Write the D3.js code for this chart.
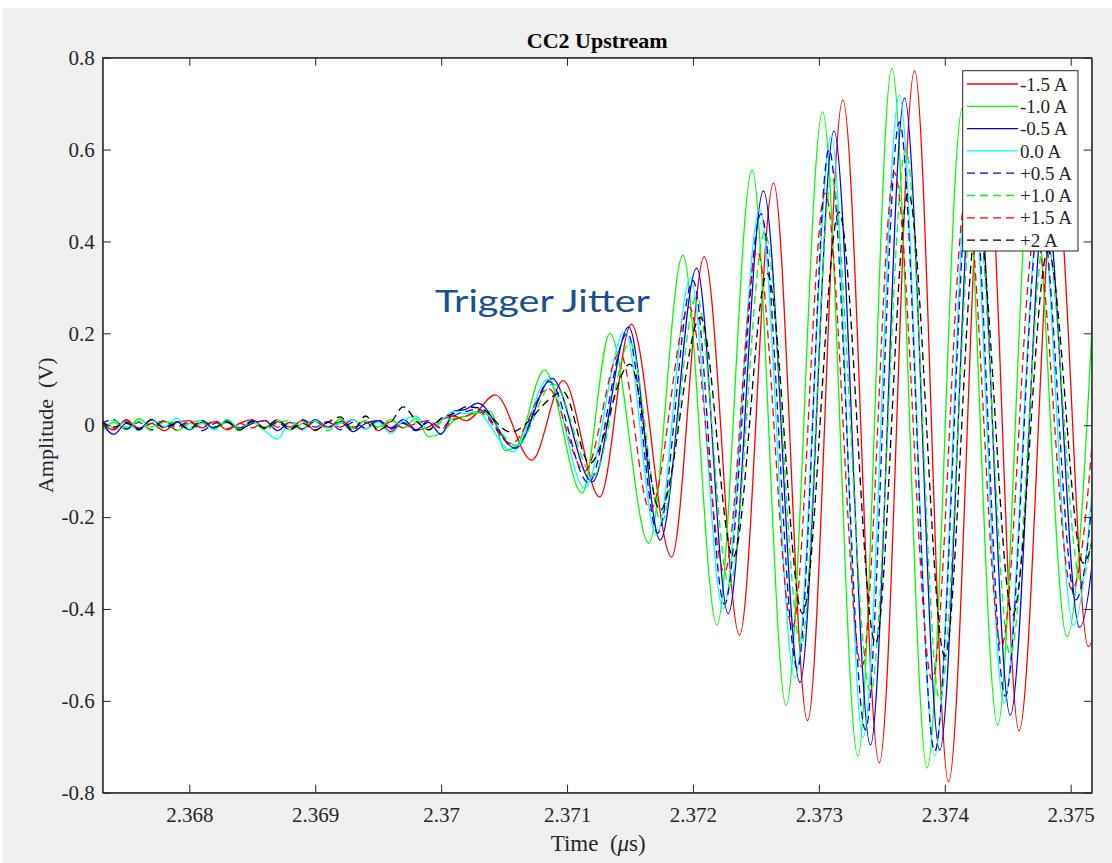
<!DOCTYPE html>
<html>
<head>
<meta charset="utf-8">
<script src="https://cdn.jsdelivr.net/npm/d3@7"></script>
<style>
  body { margin: 0; background: #ffffff; }
  text { font-family: "Liberation Serif", "Times New Roman", serif; fill: #262626; }
</style>
</head>
<body>
<svg id="chart" width="1112" height="863"></svg>
<script>
// tick labels
const xTicks = [2.368, 2.369, 2.37, 2.371, 2.372, 2.373, 2.374, 2.375];
const yTicks = [-0.8, -0.6, -0.4, -0.2, 0, 0.2, 0.4, 0.6, 0.8];

// legend entries
const seriesLabels = ["-1.5 A", "-1.0 A", "-0.5 A", "0.0 A", "+0.5 A", "+1.0 A", "+1.5 A", "+2 A"];

// pre-trigger noise, sampled on a shared time grid (us)
const noiseTimes = [2.3673, 2.3674, 2.3675, 2.3676, 2.3677, 2.3678, 2.3679, 2.3680, 2.3681, 2.3682,
                    2.3683, 2.3684, 2.3685, 2.3686, 2.3687, 2.3688, 2.3689, 2.3690, 2.3691, 2.3692,
                    2.3693, 2.3694, 2.3695, 2.3696, 2.3697, 2.3698, 2.3699, 2.3700, 2.3701, 2.3702];

const noiseM15 = [0.005, -0.01, 0.012, -0.008, 0.004, -0.012, 0.006, 0.01, -0.006, 0.008, -0.01, 0.004, 0.012, -0.006, 0.008,
                  -0.004, 0.01, -0.012, 0.006, -0.004, 0.012, -0.008, 0.01, -0.014, 0.006, -0.01, -0.004, 0.012, 0.02, 0.01];
const noiseM10 = [-0.015, 0.006, -0.01, 0.014, -0.004, 0.01, -0.012, 0.004, 0.01, -0.008, 0.006, -0.012, 0.008, -0.004, 0.012,
                  -0.01, 0.004, 0.008, -0.006, 0.014, -0.008, 0.01, -0.004, 0.012, -0.006, 0.015, -0.025, -0.018, 0.01, 0.02];
const noiseM05 = [0.01, -0.02, 0.004, -0.008, 0.012, -0.004, 0.008, -0.01, 0.006, -0.006, 0.01, -0.008, 0.004, 0.01, -0.012,
                  0.006, -0.008, 0.012, -0.004, 0.008, -0.014, 0.004, 0.01, -0.006, 0.012, -0.01, 0.006, -0.02, 0.03, 0.035];
const noiseZ00 = [0.012, -0.006, 0.008, -0.012, 0.01, -0.004, 0.015, -0.008, 0.004, -0.01, 0.012, -0.006, 0.008, -0.012, -0.03,
                  0.006, -0.01, 0.01, -0.006, 0.004, 0.012, -0.008, 0.006, -0.018, 0.01, 0.02, -0.01, 0.01, 0.03, 0.025];
const noiseP05 = [0.004, 0.012, -0.008, 0.006, -0.01, 0.01, -0.004, 0.008, -0.012, 0.004, 0.008, -0.006, 0.01, -0.008, 0.006,
                  -0.01, 0.012, -0.004, 0.008, -0.01, 0.006, -0.006, 0.012, -0.008, 0.004, -0.012, 0.01, -0.006, 0.02, 0.03];
const noiseP10 = [-0.008, 0.01, -0.004, 0.008, -0.012, 0.006, 0.004, -0.01, 0.008, -0.004, 0.012, -0.008, 0.006, -0.01, 0.004,
                  0.01, -0.006, 0.008, -0.012, 0.006, -0.004, 0.01, -0.008, 0.012, -0.006, 0.008, -0.01, 0.006, 0.015, 0.02];
const noiseP15 = [0.006, -0.008, 0.01, -0.006, 0.004, 0.008, -0.01, 0.006, -0.004, 0.01, -0.008, 0.004, -0.006, 0.01, -0.004,
                  0.006, -0.01, 0.008, -0.006, 0.01, -0.004, 0.006, -0.012, 0.008, -0.006, 0.004, 0.01, -0.008, 0.012, 0.02];
const noiseP20 = [0.008, -0.004, 0.006, -0.01, 0.012, -0.006, 0.004, -0.008, 0.01, -0.004, 0.006, -0.01, 0.008, -0.006, 0.012,
                  -0.008, 0.004, -0.01, 0.006, 0.018, -0.012, 0.02, -0.01, 0.006, 0.04, 0.01, -0.01, 0.015, 0.025, 0.04];

// ringing after the trigger: [time (us), amplitude (V)] at each peak / trough
const ringM15 = [[2.37043, 0.066], [2.37072, -0.076], [2.37097, 0.097], [2.37126, -0.156], [2.37151, 0.22], [2.37183, -0.287],
                 [2.37209, 0.367], [2.37237, -0.457], [2.37264, 0.527], [2.37291, -0.643], [2.37319, 0.708], [2.37348, -0.735],
                 [2.37376, 0.772], [2.37403, -0.776], [2.37432, 0.70], [2.37459, -0.665], [2.37488, 0.55], [2.37514, -0.482], [2.37542, 0.4]];
const ringM10 = [[2.37039, 0.03], [2.37051, -0.055], [2.37060, -0.045], [2.37082, 0.12], [2.37112, -0.148], [2.37134, 0.20],
                 [2.37165, -0.257], [2.37192, 0.37], [2.37219, -0.435], [2.37247, 0.555], [2.37274, -0.61], [2.37303, 0.682],
                 [2.37331, -0.72], [2.37358, 0.777], [2.37386, -0.746], [2.37414, 0.69], [2.37442, -0.653], [2.37469, 0.58],
                 [2.37497, -0.46], [2.37522, 0.5]];
const ringM05 = [[2.37029, 0.048], [2.37059, -0.05], [2.37088, 0.102], [2.37120, -0.123], [2.37149, 0.214], [2.37174, -0.25],
                 [2.37203, 0.342], [2.37228, -0.41], [2.37256, 0.51], [2.37285, -0.56], [2.37312, 0.64], [2.37341, -0.696],
                 [2.37368, 0.712], [2.37396, -0.707], [2.37424, 0.62], [2.37452, -0.631], [2.37480, 0.5], [2.37507, -0.44], [2.37535, 0.38]];
const ringZ00 = [[2.37027, 0.03], [2.37057, -0.058], [2.37085, 0.10], [2.37114, -0.137], [2.37146, 0.205], [2.37171, -0.24],
                 [2.37198, 0.32], [2.37224, -0.40], [2.37253, 0.47], [2.37281, -0.55], [2.37310, 0.63], [2.37335, -0.68],
                 [2.37364, 0.718], [2.37392, -0.72], [2.37420, 0.60], [2.37447, -0.605], [2.37476, 0.48], [2.37502, -0.435], [2.37530, 0.4]];
const ringP05 = [[2.37029, 0.035], [2.37059, -0.05], [2.37086, 0.095], [2.37117, -0.125], [2.37148, 0.2], [2.37172, -0.235],
                 [2.37200, 0.315], [2.37225, -0.39], [2.37254, 0.46], [2.37283, -0.53], [2.37308, 0.60], [2.37337, -0.663],
                 [2.37364, 0.66], [2.37392, -0.71], [2.37421, 0.58], [2.37448, -0.59], [2.37476, 0.47], [2.37504, -0.38], [2.37531, 0.35]];
const ringP10 = [[2.37031, 0.03], [2.37060, -0.045], [2.37089, 0.09], [2.37121, -0.11], [2.37150, 0.18], [2.37175, -0.21],
                 [2.37203, 0.28], [2.37229, -0.35], [2.37257, 0.42], [2.37286, -0.48], [2.37310, 0.54], [2.37341, -0.58],
                 [2.37369, 0.60], [2.37396, -0.598], [2.37424, 0.52], [2.37452, -0.50], [2.37480, 0.42], [2.37508, -0.337], [2.37535, 0.3]];
const ringP15 = [[2.37029, 0.03], [2.37056, -0.04], [2.37085, 0.08], [2.37114, -0.1], [2.37142, 0.157], [2.37166, -0.185],
                 [2.37197, 0.257], [2.37225, -0.32], [2.37251, 0.38], [2.37279, -0.44], [2.37305, 0.505], [2.37334, -0.526],
                 [2.37360, 0.55], [2.37390, -0.555], [2.37417, 0.5], [2.37445, -0.482], [2.37472, 0.42], [2.37501, -0.358], [2.37526, 0.3]];
const ringP20 = [[2.37031, 0.037], [2.37055, -0.015], [2.37097, 0.072], [2.37118, -0.083], [2.37150, 0.133], [2.37174, -0.185],
                 [2.37206, 0.235], [2.37232, -0.287], [2.37259, 0.33], [2.37287, -0.41], [2.37316, 0.464], [2.37345, -0.475],
                 [2.37371, 0.505], [2.37400, -0.503], [2.37426, 0.45], [2.37454, -0.413], [2.37482, 0.38], [2.37510, -0.3], [2.37538, 0.25]];

const noiseSets = [noiseM15, noiseM10, noiseM05, noiseZ00, noiseP05, noiseP10, noiseP15, noiseP20];
const ringSets = [ringM15, ringM10, ringM05, ringZ00, ringP05, ringP10, ringP15, ringP20];

// styles (MATLAB default-ish colours)
const lineColors = ["#ff0000", "#00ff00", "#0000ff", "#00ffff", "#0000ff", "#00ff00", "#ff0000", "#000000"];
const lineDashed = [false, false, false, false, true, true, true, true];

const svg = d3.select("#chart");
const W = 1112, H = 863;
const plot = { left: 102.7, top: 57.7, right: 1091.7, bottom: 792.7 };

// figure background
svg.append("rect")
    .attr("x", 3).attr("y", 8)
    .attr("width", W - 3).attr("height", H - 8)
    .attr("fill", "#f0f0f0");

const x = d3.scaleLinear().domain([2.367312, 2.375167]).range([plot.left, plot.right]);
const y = d3.scaleLinear().domain([-0.8, 0.8]).range([plot.bottom, plot.top]);

// axes background
svg.append("rect")
    .attr("x", plot.left).attr("y", plot.top)
    .attr("width", plot.right - plot.left).attr("height", plot.bottom - plot.top)
    .attr("fill", "#ffffff");

svg.append("clipPath").attr("id", "clip")
  .append("rect")
    .attr("x", plot.left).attr("y", plot.top)
    .attr("width", plot.right - plot.left).attr("height", plot.bottom - plot.top);

const line = d3.line()
    .x(d => x(d[0]))
    .y(d => y(d[1]))
    .curve(d3.curveMonotoneX);

const traces = svg.append("g").attr("clip-path", "url(#clip)");
seriesLabels.forEach((label, i) => {
    const pts = noiseTimes.map((t, k) => [t, noiseSets[i][k]]).concat(ringSets[i]);
    traces.append("path")
        .attr("d", line(pts))
        .attr("fill", "none")
        .attr("stroke", lineColors[i])
        .attr("stroke-width", 1.3)
        .attr("stroke-dasharray", lineDashed[i] ? "8,5" : null);
});

// axes
const fmtX = d => String(+d.toFixed(3));
const fmtY = d => String(+d.toFixed(1));

const gx = svg.append("g")
    .attr("transform", `translate(0,${plot.bottom})`)
    .call(d3.axisBottom(x).tickValues(xTicks).tickFormat(fmtX).tickSizeInner(-8).tickSizeOuter(0).tickPadding(14));
const gxTop = svg.append("g")
    .attr("transform", `translate(0,${plot.top})`)
    .call(d3.axisTop(x).tickValues(xTicks).tickFormat("").tickSizeInner(-8).tickSizeOuter(0));
const gy = svg.append("g")
    .attr("transform", `translate(${plot.left},0)`)
    .call(d3.axisLeft(y).tickValues(yTicks).tickFormat(fmtY).tickSizeInner(-8).tickSizeOuter(0).tickPadding(8));
const gyRight = svg.append("g")
    .attr("transform", `translate(${plot.right},0)`)
    .call(d3.axisRight(y).tickValues(yTicks).tickFormat("").tickSizeInner(-8).tickSizeOuter(0));

[gx, gxTop, gy, gyRight].forEach(g => {
    g.select(".domain").attr("stroke", "#262626");
    g.selectAll(".tick line").attr("stroke", "#262626");
    g.selectAll(".tick text")
        .attr("font-family", "Liberation Serif, Times New Roman, serif")
        .attr("font-size", 21)
        .attr("fill", "#262626");
});

// box outline
svg.append("rect")
    .attr("x", plot.left).attr("y", plot.top)
    .attr("width", plot.right - plot.left).attr("height", plot.bottom - plot.top)
    .attr("fill", "none")
    .attr("stroke", "#262626")
    .attr("stroke-width", 1);

// title and axis labels
svg.append("text")
    .attr("x", (plot.left + plot.right) / 2).attr("y", 48)
    .attr("text-anchor", "middle")
    .attr("font-size", 22)
    .attr("font-weight", "bold")
    .style("fill", "#000")
    .text("CC2 Upstream");

const xLabel = svg.append("text")
    .attr("x", (plot.left + plot.right) / 2 + 1).attr("y", 851)
    .attr("text-anchor", "middle")
    .attr("font-size", 23);
xLabel.append("tspan").text("Time\u00a0\u00a0(");
xLabel.append("tspan").attr("font-style", "italic").text("\u03bc");
xLabel.append("tspan").text("s)");

svg.append("text")
    .attr("transform", `translate(53,${(plot.top + plot.bottom) / 2}) rotate(-90)`)
    .attr("text-anchor", "middle")
    .attr("font-size", 22)
    .text("Amplitude\u00a0\u00a0(V)");

// annotation
svg.append("text")
    .attr("x", 435).attr("y", 312)
    .attr("textLength", 215)
    .attr("lengthAdjust", "spacingAndGlyphs")
    .attr("font-size", 31)
    .style("fill", "#1c4f94")
    .style("font-family", "Lato, 'Open Sans', sans-serif")
    .text("Trigger Jitter");

// legend
const legend = svg.append("g").attr("transform", "translate(962.7,70.7)");
legend.append("rect")
    .attr("width", 115.3).attr("height", 180.3)
    .attr("fill", "#ffffff")
    .attr("stroke", "#262626")
    .attr("stroke-width", 1);

const rows = legend.selectAll("g.row")
    .data(seriesLabels)
    .enter().append("g")
    .attr("class", "row")
    .attr("transform", (d, i) => `translate(0,${13.3 + i * 22.3})`);

rows.append("line")
    .attr("x1", 4.3).attr("x2", 55.3)
    .attr("stroke", (d, i) => lineColors[i])
    .attr("stroke-width", 1.3)
    .attr("stroke-dasharray", (d, i) => lineDashed[i] ? "8,5" : null);

rows.append("text")
    .attr("x", 57.3)
    .attr("dy", "0.35em")
    .attr("font-size", 19)
    .text(d => d);
</script>
</body>
</html>
